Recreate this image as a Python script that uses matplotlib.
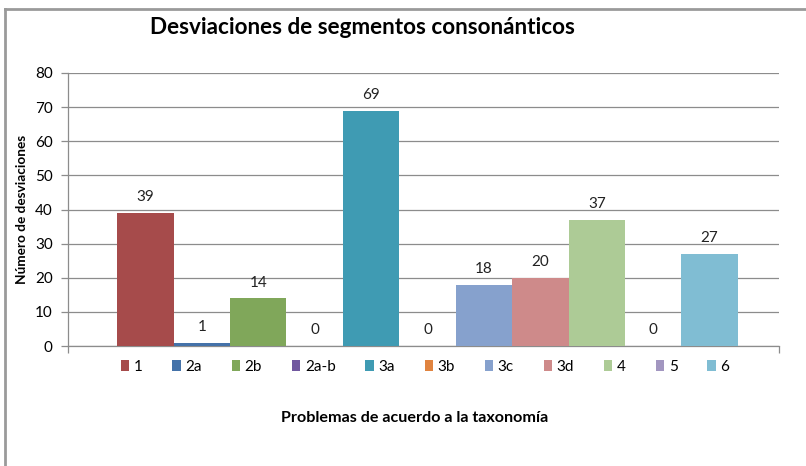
import numpy as np
import matplotlib.pyplot as plt
from matplotlib.lines import Line2D
from matplotlib.patches import Patch

plt.rcParams['font.family'] = ['Lato', 'DejaVu Sans']

series = ['1', '2a', '2b', '2a-b', '3a', '3b', '3c', '3d', '4', '5', '6']
values = [39, 1, 14, 0, 69, 0, 18, 20, 37, 0, 27]
colors = ['#A64B4B', '#4472A9', '#80A75A', '#71589F', '#3F9BB3', '#E0833F',
          '#86A1CD', '#CE8A8A', '#ADCB96', '#A296C0', '#80BDD3']
yticks = [0, 10, 20, 30, 40, 50, 60, 70, 80]

W, H = 806, 466
fig = plt.figure(figsize=(W / 100, H / 100), dpi=100)
ax = fig.add_axes([68 / W, 120 / H, (779 - 68) / W, (346 - 73) / H])

x = np.arange(len(series))
gap_l, gap_r = 0.87, 0.73
ax.bar(x, values, width=1.0, color=colors, zorder=3)
for xi, v in zip(x, values):
    ax.text(xi, v + 2.5, str(v), ha='center', va='bottom', fontsize=11, color='#222222')

x0, x1 = -0.5 - gap_l, len(series) - 0.5 + gap_r
ax.set_xlim(x0, x1)
ax.set_ylim(0, 80)
ax.set_yticks(yticks)
ax.set_yticklabels([str(t) for t in yticks], fontsize=11)
ax.yaxis.grid(True, color='#8C8C8C', lw=0.9, zorder=0)
ax.set_xticks([x0, x1])
ax.set_xticklabels(['', ''])
ax.tick_params(axis='both', color='#8C8C8C', length=5, width=0.9)
ax.tick_params(axis='y', pad=6)
for s in ['top', 'right']:
    ax.spines[s].set_visible(False)
for s in ['left', 'bottom']:
    ax.spines[s].set_color('#8C8C8C')
    ax.spines[s].set_linewidth(0.9)

ax.set_ylabel('Número de desviaciones', fontsize=9.8, fontweight='bold', labelpad=5)

handles = [Patch(facecolor=c, edgecolor='none') for c in colors]
fig.legend(handles, series, loc='center', bbox_to_anchor=(425 / W, 1 - 367 / H),
           ncol=len(series), frameon=False, fontsize=11, handlelength=0.55,
           handleheight=0.75, handletextpad=0.3, columnspacing=1.95)

fig.text(415 / W, 1 - 418 / H, 'Problemas de acuerdo a la taxonomía',
         ha='center', va='center', fontsize=11.6, fontweight='bold')
fig.text(362 / W, 1 - 28 / H, 'Desviaciones de segmentos consonánticos',
         ha='center', va='center', fontsize=16.2, fontweight='bold')

# outer chart border
fig.add_artist(Line2D([5 / W, 5 / W], [0, 1 - 9 / H], color='#9A9A9A', lw=2,
                      transform=fig.transFigure))
fig.add_artist(Line2D([5 / W, 1], [1 - 9 / H, 1 - 9 / H], color='#9A9A9A', lw=2,
                      transform=fig.transFigure))

fig.savefig('out.png', dpi=100)
